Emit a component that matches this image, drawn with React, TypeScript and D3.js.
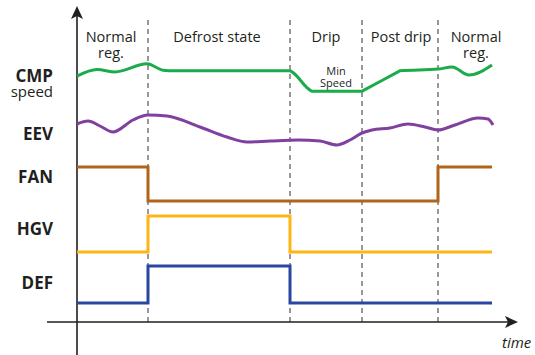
import React from "react";
import * as d3 from "d3";

// time units; phase boundaries
const boundaries = [71, 213, 285, 361];
const phaseLabels = [
  { lines: ["Normal", "reg."], t: 34 },
  { lines: ["Defrost state"], t: 140 },
  { lines: ["Drip"], t: 249 },
  { lines: ["Post drip"], t: 324 },
  { lines: ["Normal", "reg."], t: 399 },
];

const signalNames = ["CMP", "EEV", "FAN", "HGV", "DEF"];

// CMP speed (0-100 in lane)
const cmpT = [0, 20, 38, 70, 86, 98, 213, 215, 233, 235, 285, 287, 321, 323, 361, 375, 392, 415];
const cmpV = [54, 73, 66, 89, 71, 69, 69, 66, 14, 11, 11, 14, 66, 69, 74, 80, 57, 86];

// EEV opening
const eevT = [0, 11, 23, 36, 56, 71, 90, 123, 150, 170, 193, 221, 243, 260, 273, 285, 295, 313, 331, 348, 361, 378, 401, 411, 416];
const eevV = [65, 72.5, 60, 45, 75, 87.5, 85, 57.5, 32.5, 20, 22.5, 25, 22.5, 12.5, 25, 42.5, 50, 55, 65, 57.5, 50, 62.5, 80, 77.5, 62.5];

// digital signals (step)
const fanT = [0, 71, 361, 415];
const fanV = [1, 0, 1, 1];
const hgvT = [0, 71, 213, 415];
const hgvV = [0, 1, 0, 0];
const defT = [0, 71, 213, 415];
const defV = [0, 1, 0, 0];

const FONT = "'Open Sans', sans-serif";
const TXT = "#231f20";

export default function App() {
  const x = d3.scaleLinear().domain([0, 415]).range([77, 492]);
  const yCmp = d3.scaleLinear().domain([0, 100]).range([95, 60]);
  const yEev = d3.scaleLinear().domain([0, 100]).range([150, 110]);
  const yFan = d3.scaleLinear().domain([0, 1]).range([201, 167]);
  const yHgv = d3.scaleLinear().domain([0, 1]).range([252, 216]);
  const yDef = d3.scaleLinear().domain([0, 1]).range([303, 266]);

  const smooth = (ts: number[], vs: number[], ys: d3.ScaleLinear<number, number>) =>
    d3
      .line<number>()
      .x((_, i) => x(ts[i]))
      .y((_, i) => ys(vs[i]))
      .curve(d3.curveMonotoneX)(vs) || "";
  const step = (ts: number[], vs: number[], ys: d3.ScaleLinear<number, number>) =>
    d3
      .line<number>()
      .x((_, i) => x(ts[i]))
      .y((_, i) => ys(vs[i]))
      .curve(d3.curveStepAfter)(vs) || "";

  const axisY = 322;
  const axisX = 77;
  const xEnd = 518;

  const labelY = [82, 140, 183, 235, 289];

  return (
    <svg
      width={535}
      height={355}
      style={{ position: "fixed", left: 0, top: 0, background: "#fff" }}
      fontFamily={FONT}
    >
      {/* dashed phase lines */}
      {boundaries.map((b, i) => (
        <line
          key={i}
          x1={x(b)}
          x2={x(b)}
          y1={20}
          y2={326}
          stroke="#333"
          strokeWidth={1}
          strokeDasharray="5 4"
        />
      ))}

      {/* axes */}
      <line x1={axisX} x2={axisX} y1={355} y2={12} stroke="#231f20" strokeWidth={1.6} />
      <path d={`M${axisX},6 L${axisX + 6},19 L${axisX},16 L${axisX - 6},19 Z`} fill="#231f20" />
      <line x1={47} x2={xEnd - 6} y1={axisY} y2={axisY} stroke="#231f20" strokeWidth={1.6} />
      <path d={`M${xEnd},${axisY} L${xEnd - 13},${axisY - 6} L${xEnd - 10},${axisY} L${xEnd - 13},${axisY + 6} Z`} fill="#231f20" />
      <text x={502} y={348} fontSize={15} fontStyle="italic" fill={TXT}>time</text>

      {/* phase labels */}
      {phaseLabels.map((p, i) =>
        p.lines.map((l, j) => (
          <text key={`${i}-${j}`} x={x(p.t)} y={42 + j * 16} fontSize={14.5} textAnchor="middle" fill={TXT}>
            {l}
          </text>
        ))
      )}

      {/* signal labels */}
      {signalNames.map((s, i) => (
        <text key={s} x={53} y={labelY[i]} fontSize={17} fontWeight="bold" textAnchor="end" fill={TXT}>
          {s}
        </text>
      ))}
      <text x={53} y={97} fontSize={15} textAnchor="end" fill={TXT}>speed</text>

      {/* Min Speed */}
      <text x={336} y={75} fontSize={11} textAnchor="middle" fill={TXT}>Min</text>
      <text x={336} y={87} fontSize={11} textAnchor="middle" fill={TXT}>Speed</text>

      {/* signals */}
      <path d={smooth(cmpT, cmpV, yCmp)} fill="none" stroke="#1aab4b" strokeWidth={3} />
      <path d={smooth(eevT, eevV, yEev)} fill="none" stroke="#8040a0" strokeWidth={3} />
      <path d={step(fanT, fanV, yFan)} fill="none" stroke="#b0651a" strokeWidth={3} />
      <path d={step(hgvT, hgvV, yHgv)} fill="none" stroke="#fdb515" strokeWidth={3} />
      <path d={step(defT, defV, yDef)} fill="none" stroke="#2a46a0" strokeWidth={3} />
    </svg>
  );
}
